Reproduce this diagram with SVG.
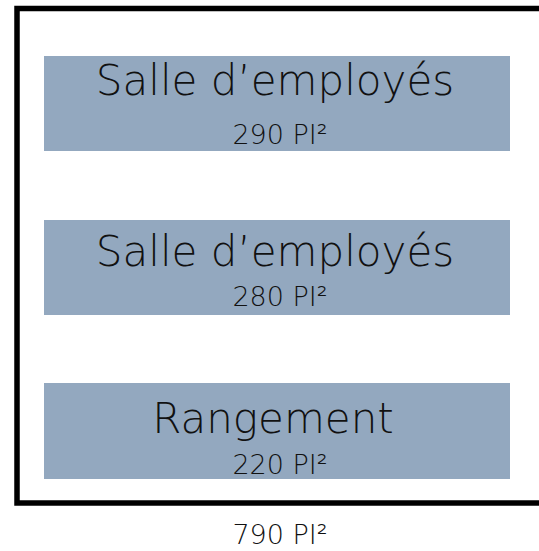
<svg xmlns="http://www.w3.org/2000/svg" width="539" height="551" viewBox="0 0 539 551">
<style>
.room{fill:#93a8bf}
.t{font-family:"DejaVu Sans","Liberation Sans",sans-serif;font-weight:200;fill:#111;text-anchor:middle}
.big{font-size:42px}
.small{font-size:27px}
</style>
<rect x="0" y="0" width="539" height="551" fill="#fff"/>
<g id="frame">
<rect x="17" y="8.5" width="540" height="494.5" fill="none" stroke="#000" stroke-width="5.5"/>
</g>
<g id="room1">
<rect class="room" x="44" y="56" width="466" height="95"/>
<text class="t big" x="275" y="95">Salle d’employés</text>
<text class="t small" x="280" y="144">290 PI²</text>
</g>
<g id="room2">
<rect class="room" x="44" y="220" width="466" height="95"/>
<text class="t big" x="275" y="266">Salle d’employés</text>
<text class="t small" x="280" y="306">280 PI²</text>
</g>
<g id="room3">
<rect class="room" x="44" y="383" width="466" height="96"/>
<text class="t big" x="273" y="433">Rangement</text>
<text class="t small" x="280" y="474">220 PI²</text>
</g>
<g id="total">
<text class="t small" x="280" y="544">790 PI²</text>
</g>
</svg>
